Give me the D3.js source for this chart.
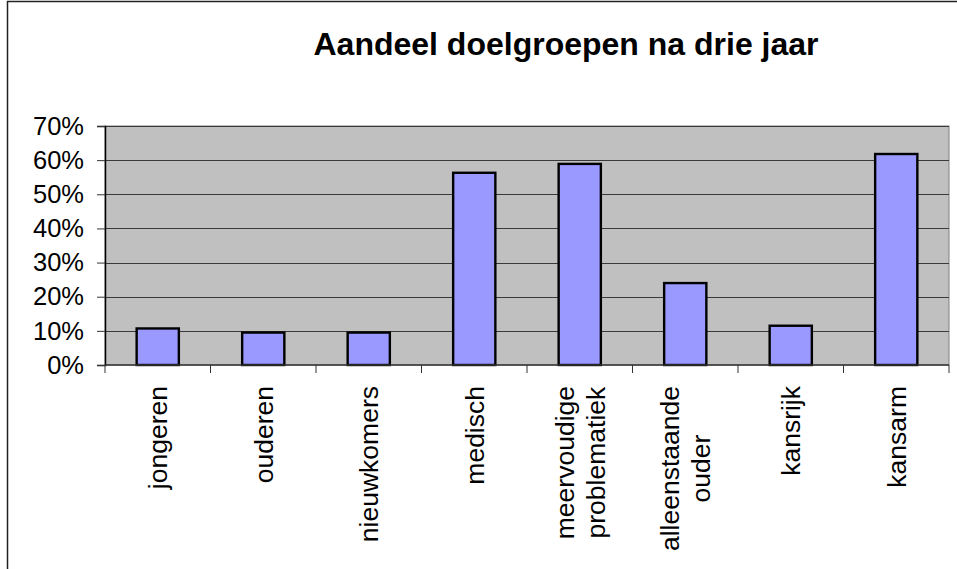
<!DOCTYPE html>
<html>
<head>
<meta charset="utf-8">
<script src="https://cdn.jsdelivr.net/npm/d3@7"></script>
<style>
  body { margin: 0; background: #fff; }
  text { font-family: Arial, "Liberation Sans", sans-serif; }
</style>
</head>
<body>
<div id="chart"></div>
<script>
var categories = ["jongeren", "ouderen", "nieuwkomers", "medisch",
                  "meervoudige\nproblematiek", "alleenstaande\nouder", "kansrijk", "kansarm"]
var shares = [0.107, 0.095, 0.095, 0.563, 0.589, 0.240, 0.115, 0.618]
var yTicks = [0, 0.1, 0.2, 0.3, 0.4, 0.5, 0.6, 0.7]
var title = "Aandeel doelgroepen na drie jaar"

var width = 957,
    height = 569
var plot = {left: 105, right: 949, top: 126, bottom: 365}

var svg = d3.select("#chart")
  .append("svg")
    .attr("width", width)
    .attr("height", height)

// outer chart frame
svg.append("rect")
  .attr("x", 7.5).attr("y", 1.5)
  .attr("width", width + 20).attr("height", height + 20)
  .attr("fill", "white")
  .attr("stroke", "#222")
  .attr("stroke-width", 1.5)

svg.append("text")
  .attr("x", 566)
  .attr("y", 55)
  .attr("text-anchor", "middle")
  .style("font-size", "32px")
  .style("font-weight", "bold")
  .text(title)

var x = d3.scaleBand()
  .domain(categories)
  .range([plot.left, plot.right])
  .paddingInner(0.6)
  .paddingOuter(0.3)

var y = d3.scaleLinear()
  .domain([0, 0.7])
  .range([plot.bottom, plot.top])

// plot area
svg.append("rect")
  .attr("x", plot.left)
  .attr("y", plot.top)
  .attr("width", plot.right - plot.left)
  .attr("height", plot.bottom - plot.top)
  .attr("fill", "#c0c0c0")
  .attr("stroke", "#808080")
  .attr("stroke-width", 1)

svg.selectAll("grid")
  .data(yTicks.slice(1))
  .enter()
  .append("line")
    .attr("x1", plot.left).attr("x2", plot.right)
    .attr("y1", function(d) { return Math.round(y(d)) + 0.5 })
    .attr("y2", function(d) { return Math.round(y(d)) + 0.5 })
    .attr("stroke", "#3a3a3a")
    .attr("stroke-width", 1.2)

svg.selectAll("bars")
  .data(shares)
  .enter()
  .append("rect")
    .attr("x", function(d, i) { return x(categories[i]) })
    .attr("y", function(d) { return y(d) })
    .attr("width", x.bandwidth())
    .attr("height", function(d) { return y(0) - y(d) })
    .attr("fill", "#9999ff")
    .attr("stroke", "black")
    .attr("stroke-width", 2.4)

// y axis
var yAxis = svg.append("g")
  .attr("transform", "translate(" + plot.left + ",0)")
  .call(d3.axisLeft(y).tickValues(yTicks).tickFormat(d3.format(".0%")).tickSize(8).tickPadding(13))
yAxis.select(".domain").attr("stroke", "black").attr("stroke-width", 1.5)
yAxis.selectAll(".tick line").attr("stroke", "#333")
yAxis.selectAll("text")
  .style("font-size", "25.5px")
  .attr("fill", "black")
  .attr("font-family", null)

// x axis line + boundary ticks
svg.append("line")
  .attr("x1", plot.left).attr("x2", plot.right)
  .attr("y1", plot.bottom).attr("y2", plot.bottom)
  .attr("stroke", "#333").attr("stroke-width", 1.5)

svg.selectAll("xticks")
  .data(d3.range(categories.length + 1))
  .enter()
  .append("line")
    .attr("x1", function(i) { return plot.left + i * x.step() })
    .attr("x2", function(i) { return plot.left + i * x.step() })
    .attr("y1", plot.bottom)
    .attr("y2", plot.bottom + 8)
    .attr("stroke", "#333")

// category labels, rotated, top aligned
var fs = 26.5, lh = 31
var labels = svg.selectAll("catLabels")
  .data(categories)
  .enter()
  .append("g")
    .attr("transform", function(d) {
      return "translate(" + (x(d) + x.bandwidth() / 2) + ",386) rotate(-90)"
    })

labels.each(function(d) {
  var g = d3.select(this)
  var lines = d.split("\n")
  var texts = lines.map(function(line, k) {
    return g.append("text")
      .attr("y", (k - (lines.length - 1) / 2) * lh + 0.35 * fs)
      .attr("text-anchor", "middle")
      .style("font-size", fs + "px")
      .text(line)
  })
  var longest = d3.max(texts, function(t) { return t.node().getComputedTextLength() })
  texts.forEach(function(t) { t.attr("x", -longest / 2) })
})
</script>
</body>
</html>
